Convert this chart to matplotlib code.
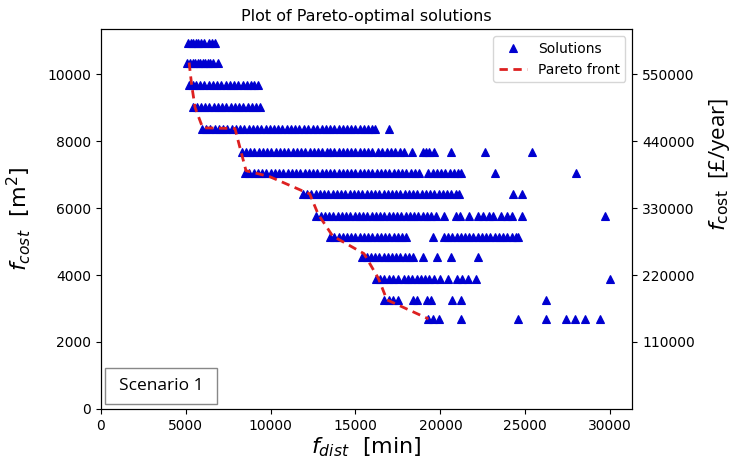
import matplotlib
matplotlib.use('Agg')
import matplotlib.pyplot as plt
from matplotlib.patches import Rectangle

# area levels of the solution bands [m2]
levels = [10940, 10350, 9680, 9010, 8380, 7690, 7060, 6420, 5770, 5150, 4530, 3880, 3260, 2690]

# travel distance of the solutions in each band [min]
band_x = [
    [5150, 5300, 5450, 5600, 5750, 5900, 6050, 6350, 6550, 6750],
    [5100, 5250, 5400, 5550, 5700, 5850, 6000, 6150, 6300, 6450, 6600, 6900],
    [5200, 5400, 5600, 5850, 6100, 6350, 6600, 6850, 7100, 7350, 7600, 7850,
     8100, 8350, 8600, 8850, 9050, 9250],
    [5400, 5650, 5900, 6150, 6400, 6650, 6900, 7150, 7400, 7650, 7900, 8150,
     8400, 8650, 8900, 9150, 9400],
    [5950, 6200, 6450, 6700, 6950, 7200, 7450, 7700, 7950, 8200, 8450, 8700,
     8950, 9200, 9450, 9700, 9950, 10200, 10450, 10700, 10950, 11200, 11450,
     11700, 11950, 12200, 12500, 12750, 13000, 13250, 13500, 13750, 14000,
     14250, 14500, 14750, 15000, 15250, 15500, 15750, 16000, 16150, 16950],
    [8300, 8550, 8800, 9050, 9300, 9550, 9800, 10050, 10300, 10550, 10800,
     11050, 11300, 11550, 11800, 12050, 12300, 12550, 12800, 13050, 13300,
     13500, 13750, 14000, 14250, 14500, 14750, 15000, 15250, 15500, 15750,
     16000, 16300, 16550, 16850, 17100, 17350, 17600, 17850, 18300, 18950,
     19150, 19350, 19600, 20600, 22600, 25400],
    [8500, 8750, 9000, 9250, 9500, 9750, 10000, 10250, 10500, 10750, 11000,
     11250, 11500, 11750, 12000, 12250, 12500, 12750, 13000, 13250, 13500,
     13750, 14000, 14250, 14500, 14750, 15000, 15250, 15500, 15750, 16000,
     16250, 16500, 16750, 17000, 17250, 17500, 17750, 18000, 18250, 18500,
     18750, 19300, 19550, 19800, 20050, 20300, 20550, 20800, 21050, 21200,
     23200, 28000],
    [11900, 12150, 12400, 12650, 12900, 13150, 13400, 13650, 13900, 14150,
     14400, 14650, 14900, 15150, 15400, 15650, 15900, 16150, 16400, 16650,
     16900, 17150, 17400, 17650, 17900, 18150, 18400, 18650, 18900, 19150,
     19400, 19650, 19900, 20150, 20400, 20650, 20900, 21100, 24300, 24800],
    [12700, 12950, 13200, 13450, 13700, 13950, 14200, 14450, 14700, 14950,
     15200, 15450, 15700, 15950, 16200, 16450, 16700, 16950, 17200, 17450,
     17700, 17950, 18200, 18450, 18700, 18950, 19200, 19450, 19750, 20200,
     20900, 21150, 21700, 22200, 22500, 22850, 23100, 23600, 23900, 24200,
     24800, 29700],
    [13500, 13750, 14000, 14250, 14500, 14750, 15000, 15250, 15500, 15750,
     16000, 16250, 16500, 16750, 17000, 17250, 17500, 17750, 18000, 19550,
     20200, 20450, 20700, 20950, 21200, 21450, 21700, 21950, 22200, 22450,
     22700, 22950, 23200, 23450, 23700, 23950, 24200, 24450, 24600],
    [15400, 15650, 15900, 16150, 16400, 16650, 16900, 17150, 17400, 17650,
     17900, 18150, 18400, 19000, 19800, 20600, 22200],
    [16200, 16450, 16700, 16950, 17200, 17500, 17850, 18100, 18350, 18600,
     18850, 19100, 19350, 19650, 20000, 20450, 21000, 21300, 21600, 22100,
     30000],
    [16700, 16950, 17200, 17500, 18400, 18650, 19200, 19450, 20700, 21200,
     26200],
    [19300, 19550, 19900, 21200, 24600, 26200, 27400, 27950, 28500, 29400],
]

# non-dominated solutions
pareto_x = [5200, 5350, 5550, 6000, 7900, 8550, 9950, 11950, 12300, 12800,
            13650, 15500, 16350, 16850, 19300]
pareto_y = [10350, 9680, 9010, 8400, 8380, 7120, 6940, 6500, 6430, 5820,
            5170, 4640, 3900, 3260, 2690]

cost_per_m2 = 55  # £/year per m2

sol_x = []
sol_y = []
for lev, xs in zip(levels, band_x):
    sol_x += xs
    sol_y += [lev] * len(xs)

fig = plt.figure(figsize=(7.36, 4.70), dpi=100)
ax = fig.add_axes([0.137, 0.130, 0.722, 0.808])

ax.plot(sol_x, sol_y, '^', color='#0000d0', markersize=5.4, markeredgewidth=0.8,
        linestyle='none', label='Solutions', zorder=2)
ax.plot(pareto_x, pareto_y, color='#dd2020', linewidth=2, linestyle=(0, (3, 2)),
        label='Pareto front', zorder=3)

ax.set_xlim(0, 31300)
ax.set_ylim(0, 11350)
ax.set_xticks([0, 5000, 10000, 15000, 20000, 25000, 30000])
ax.set_yticks([0, 2000, 4000, 6000, 8000, 10000])
ax.tick_params(labelsize=10)
ax.set_title('Plot of Pareto-optimal solutions', fontsize=11.5)
ax.set_xlabel(r'$f_{dist}$  [min]', fontsize=16, labelpad=2)
ax.set_ylabel(r'$f_{cost}$  [m$^2$]', fontsize=16, labelpad=10)
ax.legend(loc='upper right', fontsize=10)

ax.add_patch(Rectangle((0.008, 0.012), 0.21, 0.097, transform=ax.transAxes,
                       facecolor='white', edgecolor='#888888', linewidth=1,
                       zorder=4))
ax.text(0.113, 0.060, 'Scenario 1', transform=ax.transAxes, fontsize=12.5,
        family='Open Sans', ha='center', va='center', zorder=5)

ax2 = ax.twinx()
lo, hi = ax.get_ylim()
ax2.set_ylim(lo * cost_per_m2, hi * cost_per_m2)
ax2.set_yticks([110000, 220000, 330000, 440000, 550000])
ax2.tick_params(labelsize=10)

fig.text(0.978, 0.65, r'$f_{\mathrm{cost}}$  [£/year]', rotation=90,
         fontsize=16, ha='center', va='center', family='Open Sans')

fig.savefig('out.png', dpi=100)
